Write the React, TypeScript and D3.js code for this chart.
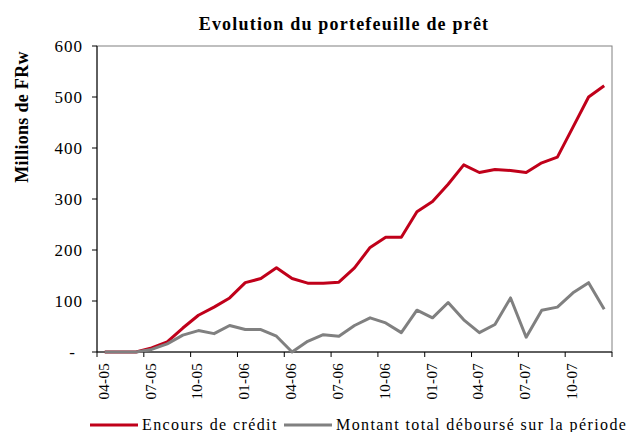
import React, { useEffect, useRef } from 'react';
import * as d3 from 'd3';

// monthly points, 04-05 .. 12-07
const months = [
  '04-05', '05-05', '06-05', '07-05', '08-05', '09-05', '10-05', '11-05', '12-05',
  '01-06', '02-06', '03-06', '04-06', '05-06', '06-06', '07-06', '08-06', '09-06',
  '10-06', '11-06', '12-06', '01-07', '02-07', '03-07', '04-07', '05-07', '06-07',
  '07-07', '08-07', '09-07', '10-07', '11-07', '12-07',
];
const encours = [
  0, 0, 0, 8, 20, 47, 72, 88, 106, 136, 144, 165, 144, 135, 135, 137, 165, 205,
  225, 225, 275, 295, 329, 367, 352, 358, 356, 352, 371, 382, 441, 500, 522,
];
const montant = [
  0, 0, 0, 5, 16, 33, 42, 36, 52, 44, 44, 31, 0, 21, 34, 31, 52, 67,
  57, 38, 82, 67, 97, 63, 38, 54, 106, 29, 82, 88, 116, 136, 84,
];
const yTicks = [0, 100, 200, 300, 400, 500, 600];
const seriesNames = ['Encours de crédit', 'Montant total déboursé sur la période'];
const seriesColors = ['#c0001a', '#808080'];

const App = () => {
  const svgRef = useRef(null);

  useEffect(() => {
    const svg = d3.select(svgRef.current);
    svg.selectAll('*').remove();

    const left = 97, right = 612, top = 46, bottom = 352;

    const x = d3.scaleBand().domain(months).range([left, right]);
    const y = d3.scaleLinear().domain([0, 600]).range([bottom, top]);

    // plot frame
    svg.append('rect')
      .attr('x', left).attr('y', top)
      .attr('width', right - left).attr('height', bottom - top)
      .attr('fill', 'none').attr('stroke', '#808080').attr('stroke-width', 1);

    // y axis
    svg.append('line')
      .attr('x1', left).attr('x2', left).attr('y1', top).attr('y2', bottom)
      .attr('stroke', '#000');
    yTicks.forEach((t) => {
      svg.append('line')
        .attr('x1', left - 5).attr('x2', left).attr('y1', y(t)).attr('y2', y(t))
        .attr('stroke', '#000');
      svg.append('text')
        .attr('x', t === 0 ? 76 : 83).attr('y', y(t) + 6)
        .attr('text-anchor', 'end')
        .style('font-size', '17px')
        .style('letter-spacing', '1px')
        .text(t === 0 ? '-' : String(t));
    });

    // x axis, ticks every 3 months at category boundaries
    svg.append('line')
      .attr('x1', left).attr('x2', right).attr('y1', bottom).attr('y2', bottom)
      .attr('stroke', '#000');
    months.forEach((m, i) => {
      if (i % 3 !== 0) return;
      const bx = x(m);
      svg.append('line')
        .attr('x1', bx).attr('x2', bx).attr('y1', bottom).attr('y2', bottom + 5)
        .attr('stroke', '#000');
      const cx = bx + x.bandwidth() / 2;
      svg.append('text')
        .attr('transform', `translate(${cx + 4}, ${bottom + 11}) rotate(-90)`)
        .attr('text-anchor', 'end')
        .style('font-size', '15px')
        .style('letter-spacing', '0.3px')
        .text(m);
    });
    svg.append('line')
      .attr('x1', right).attr('x2', right).attr('y1', bottom).attr('y2', bottom + 5)
      .attr('stroke', '#000');

    // lines
    const line = d3.line()
      .x((d, i) => x(months[i]) + x.bandwidth() / 2)
      .y((d) => y(d));
    [encours, montant].forEach((data, k) => {
      svg.append('path')
        .datum(data)
        .attr('d', line)
        .attr('fill', 'none')
        .attr('stroke', seriesColors[k])
        .attr('stroke-width', 3)
        .attr('stroke-linejoin', 'round');
    });

    // title
    svg.append('text')
      .attr('x', 344).attr('y', 30)
      .attr('text-anchor', 'middle')
      .style('font-size', '18px').style('font-weight', 'bold')
      .style('letter-spacing', '1.2px')
      .text('Evolution du portefeuille de prêt');

    // y label
    svg.append('text')
      .attr('transform', 'translate(28, 117) rotate(-90)')
      .attr('text-anchor', 'middle')
      .style('font-size', '18px').style('font-weight', 'bold')
      .style('letter-spacing', '0.3px')
      .text('Millions de FRw');

    // legend
    const legendX = [90, 284];
    seriesNames.forEach((name, k) => {
      const g = svg.append('g').attr('transform', `translate(${legendX[k]}, 425)`);
      g.append('line')
        .attr('x1', 0).attr('x2', 48).attr('y1', 0).attr('y2', 0)
        .attr('stroke', seriesColors[k]).attr('stroke-width', 3);
      g.append('text')
        .attr('x', 52).attr('y', 5)
        .style('font-size', '16px')
        .style('letter-spacing', '1.4px')
        .text(name);
    });
  }, []);

  return (
    <svg ref={svgRef} width={633} height={432}
      fontFamily="'Liberation Serif', 'Times New Roman', serif"
      style={{ position: 'absolute', left: 0, top: 0, background: '#fff' }} />
  );
};

export default App;
